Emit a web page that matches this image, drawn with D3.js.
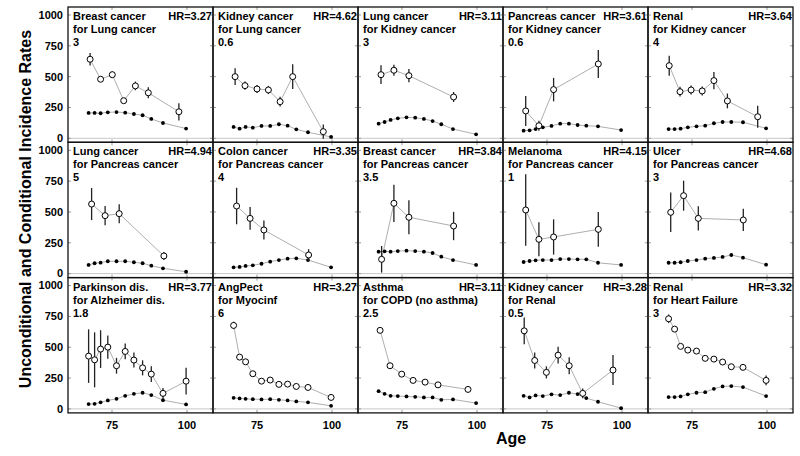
<!DOCTYPE html>
<html><head><meta charset="utf-8">
<script src="https://cdn.jsdelivr.net/npm/d3@7"></script>
<style>body{margin:0;background:#fff}svg{display:block}text{font-family:"Liberation Sans",Arial,Helvetica,sans-serif;font-weight:bold}</style>
</head><body><svg id="c" width="800" height="456"></svg>
<script>
const titles = [
  ["Breast cancer","for Lung cancer","3"],
  ["Kidney cancer","for Lung cancer","0.6"],
  ["Lung cancer","for Kidney cancer","3"],
  ["Pancreas cancer","for Kidney cancer","0.6"],
  ["Renal","for Kidney cancer","4"],
  ["Lung cancer","for Pancreas cancer","5"],
  ["Colon cancer","for Pancreas cancer","4"],
  ["Breast cancer","for Pancreas cancer","3.5"],
  ["Melanoma","for Pancreas cancer","1"],
  ["Ulcer","for Pancreas cancer","3"],
  ["Parkinson dis.","for Alzheimer dis.","1.8"],
  ["AngPect","for Myocinf","6"],
  ["Asthma","for COPD (no asthma)","2.5"],
  ["Kidney cancer","for Renal","0.5"],
  ["Renal","for Heart Failure","3"]
];
const hrLabels = ["3.27","4.62","3.11","3.61","3.64","4.94","3.35","3.84","4.15","4.68","3.77","3.27","3.11","3.28","3.32"];
const uncondAges = [67.2,69.2,71.2,73.6,76.5,79.4,82.3,85.2,88.1,92,99.7];
const uncondRates = [
  [206,206,203,211,213,208,197,187,157,124,79],
  [92,78,92,86,100,100,114,102,73,49,11],
  [119,132,149,162,170,167,157,140,114,75,32],
  [62,65,75,89,100,119,119,108,102,97,67],
  [75,75,78,89,97,102,122,132,132,130,81],
  [70,84,89,100,100,100,92,84,64,43,15],
  [51,54,62,67,80,97,110,121,124,110,51],
  [178,181,178,183,186,183,178,167,137,110,70],
  [94,102,108,110,110,118,118,116,116,88,70],
  [88,88,92,102,110,121,127,135,151,129,72],
  [39,41,53,69,82,106,122,131,112,71,36],
  [90,85,82,79,77,79,74,69,61,53,25],
  [144,122,106,104,101,98,93,93,74,77,47],
  [106,93,109,104,118,112,131,120,88,58,6],
  [96,96,101,118,131,136,163,182,185,177,104]
];
const condAges = [
  [67.7,71.2,75.1,78.9,82.8,87.1,97.3],
  [67.7,71,75,78.8,82.7,86.9,97.1],
  [68,72.3,77.3,92.2],
  [67.9,72.3,77.2,92.1],
  [67.4,71,74.7,78.4,82.3,86.8,96.9],
  [68.2,72.7,77.4,92.3],
  [68.2,72.7,77.3,92.2],
  [68.2,72.3,77.3,92.2],
  [67.9,72.3,77.2,92.1],
  [67.9,72.2,77.1,92.1],
  [67.2,69.2,71.2,73.6,76.5,79.4,82.3,85.2,88.1,92,99.7],
  [67.2,69.2,71.2,73.6,76.5,79.4,82.3,85.2,88.1,92,99.7],
  [67.7,71,74.9,78.7,82.7,87,97],
  [67.4,70.9,74.8,78.7,82.4,86.9,97],
  [67.2,69.2,71.2,73.6,76.5,79.4,82.3,85.2,88.1,92,99.7]
];
const condRates = [
  [641,479,516,305,425,369,215],
  [500,427,400,392,297,500,54],
  [516,552,508,335],
  [222,102,395,603],
  [589,378,392,384,468,303,175],
  [564,470,486,143],
  [548,448,354,151],
  [116,570,457,386],
  [516,278,297,359],
  [497,632,448,435],
  [428,398,485,501,350,466,396,333,282,126,225],
  [677,420,382,285,225,234,199,201,182,174,93],
  [637,350,282,231,217,195,158],
  [633,393,296,436,350,126,315],
  [731,647,507,477,469,410,404,380,342,337,231]
];
const condErr = [
  [50,15,25,18,35,45,70],
  [68,33,33,33,40,100,57],
  [76,44,54,40],
  [122,40,95,114],
  [81,40,36,36,70,60,90],
  [130,78,77,32],
  [148,92,77,47],
  [108,151,138,115],
  [290,138,143,141],
  [160,122,99,90],
  [217,223,153,95,64,64,61,61,64,43,108],
  [30,15,15,12,12,12,10,10,10,10,22],
  [15,15,12,12,12,12,15],
  [108,65,49,68,68,40,122],
  [35,15,12,12,12,12,12,12,12,12,40]
];
const xTicks = [75,100];
const yTicks = [0,250,500,750,1000];

const svg = d3.select("#c");
const left0 = 68, colW = 145, top0 = 7, rowH = 135.3, ncol = 5;

for (let i = 0; i < 15; i++) {
  const c = i % ncol, r = Math.floor(i / ncol);
  const L = left0 + c * colW, T = top0 + r * rowH;
  const x = d3.scaleLinear().domain([60.33, 108.67]).range([L, L + colW]);
  const y = d3.scaleLinear().domain([0, 1000]).range([T + 131.3, T + 8]);
  const g = svg.append("g");
  g.append("line").attr("x1", L).attr("x2", L + colW).attr("y1", y(0)).attr("y2", y(0))
    .attr("stroke", "#c8c8c8").attr("stroke-width", 1);
  xTicks.forEach(t => {
    g.append("line").attr("x1", x(t)).attr("x2", x(t)).attr("y1", T).attr("y2", T + 3).attr("stroke", "#999");
    g.append("line").attr("x1", x(t)).attr("x2", x(t)).attr("y1", T + rowH).attr("y2", T + rowH - 3).attr("stroke", "#999");
  });
  yTicks.forEach(t => {
    g.append("line").attr("x1", L).attr("x2", L + 3).attr("y1", y(t)).attr("y2", y(t)).attr("stroke", "#999");
    g.append("line").attr("x1", L + colW).attr("x2", L + colW - 3).attr("y1", y(t)).attr("y2", y(t)).attr("stroke", "#999");
  });
  const line = d3.line().x(d => x(d[0])).y(d => y(d[1]));
  const u = uncondAges.map((a, k) => [a, uncondRates[i][k]]);
  const cd = condAges[i].map((a, k) => [a, condRates[i][k], condErr[i][k]]);
  g.append("path").attr("d", line(u)).attr("fill", "none").attr("stroke", "#999").attr("stroke-width", 0.8);
  g.append("path").attr("d", line(cd)).attr("fill", "none").attr("stroke", "#999").attr("stroke-width", 0.8);
  g.selectAll(".u").data(u).join("circle").attr("cx", d => x(d[0])).attr("cy", d => y(d[1])).attr("r", 1.9).attr("fill", "#000");
  g.selectAll(".e").data(cd).join("line")
    .attr("x1", d => x(d[0])).attr("x2", d => x(d[0]))
    .attr("y1", d => y(d[1] - d[2])).attr("y2", d => y(d[1] + d[2]))
    .attr("stroke", "#222").attr("stroke-width", 1.3);
  g.selectAll(".o").data(cd).join("circle").attr("cx", d => x(d[0])).attr("cy", d => y(d[1])).attr("r", 3)
    .attr("fill", "#fff").attr("stroke", "#000").attr("stroke-width", 1);
  g.append("rect").attr("x", L).attr("y", T).attr("width", colW).attr("height", rowH)
    .attr("fill", "none").attr("stroke", "#111").attr("stroke-width", 1.3);
  titles[i].forEach((s, k) => {
    g.append("text").attr("x", L + 5).attr("y", T + 13 + 13 * k).attr("font-size", 11).text(s);
  });
  g.append("text").attr("x", L + colW - 1).attr("y", T + 13).attr("font-size", 11).attr("text-anchor", "end").text("HR=" + hrLabels[i]);
  if (c === 0) {
    yTicks.forEach(t => {
      svg.append("text").attr("x", 63).attr("y", y(t)).attr("dy", "0.35em").attr("font-size", 11)
        .attr("text-anchor", "end").text(t);
    });
  }
  if (r === 2) {
    xTicks.forEach(t => {
      svg.append("text").attr("x", x(t)).attr("y", 429).attr("font-size", 11).attr("text-anchor", "middle").text(t);
    });
  }
}
svg.append("text").attr("x", 511).attr("y", 444).attr("font-size", 16).attr("text-anchor", "middle").text("Age");
svg.append("text").attr("transform", "translate(31,209) rotate(-90)").attr("font-size", 16)
  .attr("text-anchor", "middle").text("Unconditional and Conditional Incidence Rates");
</script></body></html>
